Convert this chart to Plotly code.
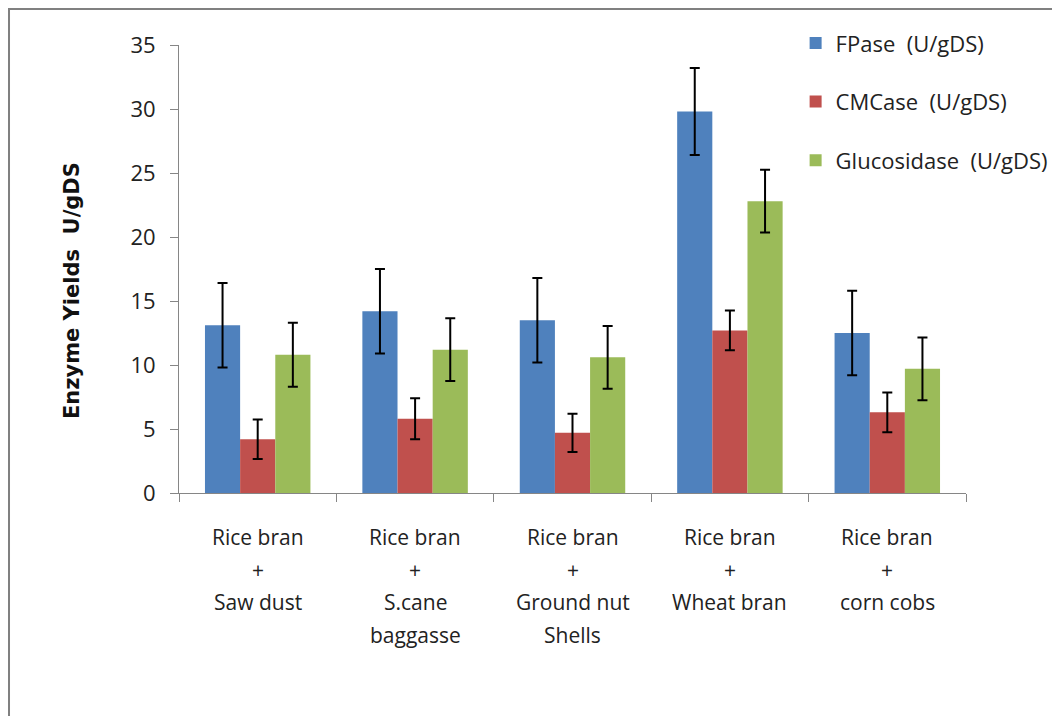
import plotly.graph_objects as go

categories = [
    "Rice bran + Saw dust",
    "Rice bran + S.cane baggasse",
    "Rice bran + Ground nut Shells",
    "Rice bran + Wheat bran",
    "Rice bran + corn cobs",
]
# how each category label is broken over lines under the axis
category_lines = [
    ["Rice bran", "+", "Saw dust"],
    ["Rice bran", "+", "S.cane", "baggasse"],
    ["Rice bran", "+", "Ground nut", "Shells"],
    ["Rice bran", "+", "Wheat bran"],
    ["Rice bran", "+", "corn cobs"],
]

fpase = [13.1, 14.2, 13.5, 29.8, 12.5]
fpase_err = [3.3, 3.3, 3.3, 3.4, 3.3]

cmcase = [4.2, 5.8, 4.7, 12.7, 6.3]
cmcase_err = [1.55, 1.6, 1.5, 1.55, 1.55]

glucosidase = [10.8, 11.2, 10.6, 22.8, 9.7]
glucosidase_err = [2.5, 2.45, 2.45, 2.45, 2.45]

series = [
    ("FPase  (U/gDS)", fpase, fpase_err, "#4F81BD"),
    ("CMCase  (U/gDS)", cmcase, cmcase_err, "#C0504D"),
    ("Glucosidase  (U/gDS)", glucosidase, glucosidase_err, "#9BBB59"),
]

fig = go.Figure()

for name, vals, errs, color in series:
    fig.add_trace(
        go.Bar(
            x=categories,
            y=vals,
            name=name,
            legendgroup=name,
            marker=dict(color=color, line=dict(width=0)),
            error_y=dict(type="data", array=errs, visible=True,
                         color="black", thickness=2, width=5),
        )
    )

font_family = "Open Sans, Noto Sans, sans-serif"
text_color = "#222222"

# category labels, one annotation per line (Excel-like wide line spacing)
annotations = []
for cat, lines in zip(categories, category_lines):
    for i, line in enumerate(lines):
        annotations.append(dict(
            x=cat, xref="x", y=0, yref="paper",
            text=line, showarrow=False,
            xanchor="center", yanchor="top",
            yshift=-28 - 32.5 * i,
            font=dict(family=font_family, size=21, color=text_color),
        ))

# y axis title, sits a bit below the axis centre like the original
annotations.append(dict(
    x=-0.136, xref="paper", y=0.453, yref="paper",
    text="<b>Enzyme Yields  U/gDS</b>", textangle=-90, showarrow=False,
    xanchor="center", yanchor="middle",
    font=dict(family="DejaVu Sans, sans-serif", size=21, color="#111111"),
))

fig.update_layout(
    width=1060,
    height=716,
    margin=dict(l=171, r=102, t=37, b=231),
    paper_bgcolor="white",
    plot_bgcolor="white",
    barmode="group",
    bargap=0.33,
    bargroupgap=0,
    font=dict(family=font_family, size=21, color=text_color),
    showlegend=True,
    legend=dict(
        x=0.7835, y=1.051, xanchor="left", yanchor="top",
        bgcolor="rgba(0,0,0,0)",
        font=dict(family=font_family, size=22, color=text_color),
        tracegroupgap=27,
        traceorder="grouped",
    ),
    xaxis=dict(
        showline=True, linecolor="#868686", linewidth=1,
        ticks="outside", ticklen=8, tickcolor="#868686",
        tickson="boundaries", showticklabels=False,
        showgrid=False, zeroline=False, automargin=False,
    ),
    yaxis=dict(
        range=[0, 35], dtick=5, tick0=0,
        showline=True, linecolor="#868686", linewidth=1,
        ticks="outside", ticklen=8, tickcolor="#868686",
        ticklabelstandoff=10,
        showgrid=False, zeroline=False, automargin=False,
        tickfont=dict(family=font_family, size=22, color=text_color),
    ),
    annotations=annotations,
    shapes=[
        dict(type="rect", xref="paper", yref="paper",
             x0=-0.216, y0=-0.6, x1=1.2, y1=1.0804,
             line=dict(color="#808080", width=2), fillcolor="rgba(0,0,0,0)",
             layer="below"),
    ],
)

fig.write_html("out.html")
